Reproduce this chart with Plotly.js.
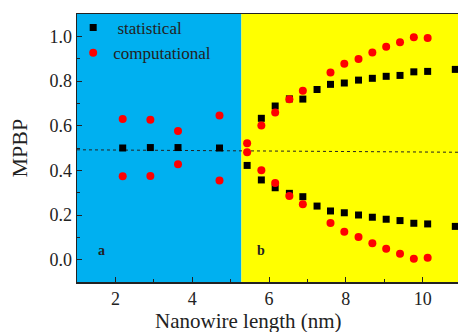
<!DOCTYPE html>
<html><head><meta charset="utf-8">
<script src="https://cdn.plot.ly/plotly-3.0.1.min.js"></script>
<style>html,body{margin:0;padding:0;background:#fff}#c{width:458px;height:332px}</style>
</head><body><div id="c"></div>
<script>
// Region a (short wires)
const aX = [2.19, 2.91, 3.63, 4.71];
const aStat = [0.50, 0.502, 0.502, 0.50];
const aCompUp = [0.630, 0.627, 0.576, 0.646];
const aCompLow = [0.373, 0.375, 0.427, 0.354];
// Region b (long wires)
const bStatUpX = [5.80, 6.16, 6.53, 6.88, 7.25, 7.60, 7.96, 8.33, 8.69, 9.05, 9.41, 9.77, 10.13, 10.85];
const bStatUp = [0.633, 0.688, 0.720, 0.719, 0.762, 0.785, 0.791, 0.804, 0.812, 0.821, 0.825, 0.841, 0.843, 0.852];
const bStatLowX = [5.43, 5.80, 6.16, 6.53, 6.88, 7.25, 7.60, 7.96, 8.33, 8.69, 9.05, 9.41, 9.77, 10.13, 10.85];
const bStatLow = [0.422, 0.357, 0.322, 0.297, 0.282, 0.240, 0.218, 0.210, 0.200, 0.190, 0.181, 0.175, 0.163, 0.160, 0.149];
const bCompX = [5.43, 5.80, 6.16, 6.53, 6.88, 7.60, 7.96, 8.33, 8.69, 9.05, 9.41, 9.77, 10.13];
const bCompUp = [0.521, 0.601, 0.659, 0.718, 0.756, 0.838, 0.877, 0.899, 0.928, 0.953, 0.974, 0.996, 0.992];
const bCompLow = [0.481, 0.400, 0.343, 0.285, 0.248, 0.164, 0.125, 0.102, 0.073, 0.049, 0.027, 0.004, 0.009];
// Reference dotted line
const refX = [1, 10.92];
const refY = [0.492, 0.481];
// Regions
const boundary = 5.28;
const xRange = [1, 10.92];
const yRange = [-0.1, 1.1];
const xTitle = 'Nanowire length (nm)';
const yTitle = 'MPBP';

const statX = aX.concat(bStatUpX, bStatLowX);
const statY = aStat.concat(bStatUp, bStatLow);
const compX = aX.concat(aX, bCompX, bCompX);
const compY = aCompUp.concat(aCompLow, bCompUp, bCompLow);

const serif = '"Liberation Serif", "Times New Roman", serif';
const traces = [
  {x: refX, y: refY, mode: 'lines', line: {color: '#222', width: 1, dash: 'dot'}, showlegend: false, hoverinfo: 'skip'},
  {x: statX, y: statY, mode: 'markers', name: '\u00a0statistical', marker: {symbol: 'square', size: 7, color: '#000'}},
  {x: compX, y: compY, mode: 'markers', name: 'computational', marker: {symbol: 'circle', size: 8, color: '#ff0000'}}
];
const axisCommon = {
  showgrid: false, zeroline: false, showline: true, linecolor: '#222', linewidth: 1.5, mirror: true,
  ticks: 'inside', ticklen: 5, tickcolor: '#222', tickwidth: 1,
  tickfont: {family: serif, size: 18, color: '#222'}
};
const layout = {
  width: 458, height: 332,
  margin: {l: 77, r: 0, t: 14, b: 50},
  paper_bgcolor: '#fff', plot_bgcolor: '#fff',
  showlegend: true,
  legend: {x: -0.01, y: 1.015, xanchor: 'left', yanchor: 'top', bgcolor: 'rgba(0,0,0,0)', font: {family: serif, size: 17, color: '#222'}, tracegroupgap: 0},
  xaxis: Object.assign({}, axisCommon, {range: xRange, dtick: 2, tick0: 0, minor: {ticks: 'inside', ticklen: 3, tickcolor: '#222', dtick: 1}}),
  yaxis: Object.assign({}, axisCommon, {range: yRange, dtick: 0.2, tick0: 0, tickformat: '.1f', minor: {ticks: 'inside', ticklen: 3, tickcolor: '#222', dtick: 0.1}}),
  shapes: [
    {type: 'rect', xref: 'x', yref: 'paper', x0: xRange[0], x1: boundary, y0: 0, y1: 1, fillcolor: '#00b0f0', line: {width: 0}, layer: 'below'},
    {type: 'rect', xref: 'x', yref: 'paper', x0: boundary, x1: xRange[1], y0: 0, y1: 1, fillcolor: '#ffff00', line: {width: 0}, layer: 'below'}
  ],
  annotations: [
    {x: 1.64, y: 0.04, xref: 'x', yref: 'y', text: '<b>a</b>', showarrow: false, font: {family: serif, size: 14, color: '#222'}},
    {x: 5.79, y: 0.04, xref: 'x', yref: 'y', text: '<b>b</b>', showarrow: false, font: {family: serif, size: 14, color: '#222'}},
    {x: 0.45, y: -0.195, xref: 'paper', yref: 'paper', xanchor: 'center', yanchor: 'bottom', text: xTitle, showarrow: false, borderpad: 0, font: {family: serif, size: 21, color: '#222'}},
    {x: -0.151, y: 0.5, xref: 'paper', yref: 'paper', xanchor: 'center', yanchor: 'middle', textangle: -90, text: yTitle, showarrow: false, font: {family: serif, size: 22, color: '#222'}}
  ]
};
Plotly.newPlot('c', traces, layout, {staticPlot: true, displayModeBar: false});
</script></body></html>
